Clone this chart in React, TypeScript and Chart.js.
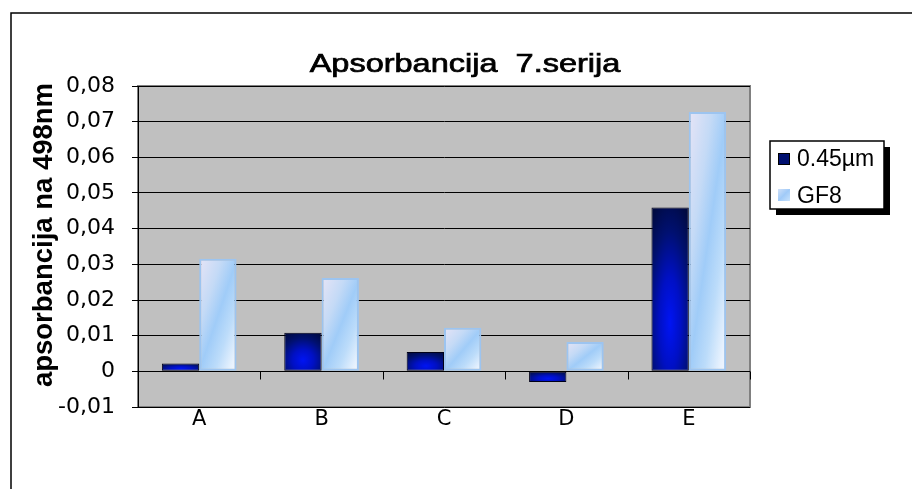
import React, { useEffect, useRef } from "react";
import { Chart, registerables } from "chart.js";

Chart.register(...registerables);

const categories = ["A", "B", "C", "D", "E"];
const seriesNames = ["0.45µm", "GF8"];
const series045 = [0.0022, 0.0108, 0.0054, -0.003, 0.0459];
const seriesGF8 = [0.0316, 0.0262, 0.0122, 0.0082, 0.0727];
const yMin = -0.01;
const yMax = 0.08;
const yStep = 0.01;
const chartTitle = "Apsorbancija  7.serija";
const yAxisTitle = "apsorbancija na 498nm";

const CAT_PCT = 0.61;
const ARIAL = "'Liberation Sans', Arial, sans-serif";
const TICKFONT = "'DejaVu Sans', sans-serif";

function barBox(chart: any, dataIndex: number, value: number, dsIndex: number) {
  const xs = chart.scales.x;
  const ys = chart.scales.y;
  const catW = (xs.right - xs.left) / categories.length;
  const bw = (catW * CAT_PCT) / 2;
  const c = xs.getPixelForValue(dataIndex);
  const left = dsIndex === 0 ? c - bw : c;
  const y1 = ys.getPixelForValue(value);
  const y0 = ys.getPixelForValue(0);
  return { left, top: Math.min(y0, y1), w: bw, h: Math.max(1, Math.abs(y1 - y0)) };
}

function makeFill(chart: any, box: any, painter: (g: CanvasRenderingContext2D) => void) {
  const cw = Math.max(2, Math.ceil(box.w));
  const ch = Math.max(2, Math.ceil(box.h));
  const off = document.createElement("canvas");
  off.width = cw;
  off.height = ch;
  const g = off.getContext("2d") as CanvasRenderingContext2D;
  g.setTransform(cw, 0, 0, ch, 0, 0);
  painter(g);
  const pat = chart.ctx.createPattern(off, "repeat") as CanvasPattern;
  pat.setTransform(new DOMMatrix([1, 0, 0, 1, Math.round(box.left), Math.round(box.top)]));
  return pat;
}

function paintDark(g: CanvasRenderingContext2D) {
  const gr = g.createRadialGradient(0.5, 0.7, 0, 0.5, 0.7, 0.8);
  gr.addColorStop(0, "#0014F4");
  gr.addColorStop(0.35, "#0010C4");
  gr.addColorStop(0.7, "#001070");
  gr.addColorStop(1, "#000A40");
  g.fillStyle = gr;
  g.fillRect(0, 0, 1, 1);
}

function paintLight(g: CanvasRenderingContext2D) {
  const gr = g.createLinearGradient(0, 0, 1, 1);
  gr.addColorStop(0, "#E6E4F6");
  gr.addColorStop(0.3, "#C4DAF6");
  gr.addColorStop(0.5, "#A0CCF8");
  gr.addColorStop(0.7, "#BCDCFA");
  gr.addColorStop(0.9, "#E8F2FE");
  gr.addColorStop(1, "#F4F8FF");
  g.fillStyle = gr;
  g.fillRect(0, 0, 1, 1);
}

function scriptFill(dsIndex: number, fallback: string) {
  return (ctx: any) => {
    const chart = ctx.chart;
    if (ctx.type !== "data" || !chart.scales || !chart.scales.x || !chart.scales.y) return fallback;
    const box = barBox(chart, ctx.dataIndex, ctx.raw as number, dsIndex);
    if (![box.left, box.top, box.w, box.h].every((v) => Number.isFinite(v)) || box.w < 1) return fallback;
    return makeFill(chart, box, dsIndex === 0 ? paintDark : paintLight);
  };
}

const decorPlugin = {
  id: "excelDecor",
  beforeDraw(chart: any) {
    const { ctx, chartArea: a } = chart;
    ctx.save();
    ctx.fillStyle = "#FFFFFF";
    ctx.fillRect(0, 0, chart.width, chart.height);
    ctx.strokeStyle = "#000";
    ctx.lineWidth = 1.5;
    ctx.strokeRect(11, 13, 1200, 1200);
    ctx.fillStyle = "#C0C0C0";
    ctx.fillRect(a.left, a.top, a.right - a.left, a.bottom - a.top);
    ctx.strokeStyle = "#808080";
    ctx.lineWidth = 2;
    ctx.strokeRect(a.left, a.top, a.right - a.left, a.bottom - a.top);
    ctx.restore();
  },
  afterDatasetsDraw(chart: any) {
    const { ctx, chartArea: a } = chart;
    const ys = chart.scales.y;
    const y0 = Math.round(ys.getPixelForValue(0)) + 0.5;
    ctx.save();
    ctx.strokeStyle = "#000";
    ctx.lineWidth = 1;
    ctx.beginPath();
    ctx.moveTo(a.left, y0);
    ctx.lineTo(a.right, y0);
    const catW = (a.right - a.left) / categories.length;
    for (let i = 0; i <= categories.length; i++) {
      const x = Math.round(a.left + i * catW) + 0.5;
      ctx.moveTo(x, y0);
      ctx.lineTo(x, y0 + 8);
    }
    ctx.stroke();
    ctx.restore();
  },
  afterDraw(chart: any) {
    const { ctx } = chart;
    ctx.save();
    ctx.fillStyle = "#000";
    ctx.strokeStyle = "#000";
    ctx.font = `25px ${ARIAL}`;
    ctx.textAlign = "center";
    ctx.textBaseline = "alphabetic";
    ctx.save();
    ctx.translate(465, 72);
    ctx.scale(1.3, 1);
    ctx.lineWidth = 0.7;
    ctx.fillText(chartTitle, 0, 0);
    ctx.strokeText(chartTitle, 0, 0);
    ctx.restore();
    ctx.save();
    ctx.font = `bold 27.5px ${ARIAL}`;
    ctx.translate(52, 235);
    ctx.rotate(-Math.PI / 2);
    ctx.fillText(yAxisTitle, 0, 0);
    ctx.restore();
    const lx = 770, ly = 141, lw = 114, lh = 68;
    ctx.fillStyle = "#000";
    ctx.fillRect(lx + 6, ly + 6, lw, lh);
    ctx.fillStyle = "#FFF";
    ctx.fillRect(lx, ly, lw, lh);
    ctx.strokeStyle = "#000";
    ctx.lineWidth = 1.5;
    ctx.strokeRect(lx, ly, lw, lh);
    ctx.fillStyle = "#001070";
    ctx.fillRect(778, 153, 12, 12);
    ctx.lineWidth = 1;
    ctx.strokeRect(778.5, 153.5, 11, 11);
    const sg = ctx.createLinearGradient(778, 189, 790, 201);
    sg.addColorStop(0, "#D0E0F8");
    sg.addColorStop(0.5, "#A0CAF8");
    sg.addColorStop(1, "#C8E2FC");
    ctx.fillStyle = sg;
    ctx.fillRect(778, 189, 12, 12);
    ctx.fillStyle = "#000";
    ctx.textAlign = "left";
    ctx.font = `23px ${ARIAL}`;
    const ds = chart.data.datasets;
    ctx.fillText(ds[0].label, 797, 166);
    ctx.fillText(ds[1].label, 797, 203);
    ctx.restore();
  },
};

function fmt(v: number) {
  if (Math.abs(v) < 1e-9) return "0";
  return v.toFixed(2).replace(".", ",");
}

export default function App() {
  const ref = useRef<HTMLCanvasElement | null>(null);
  useEffect(() => {
    if (!ref.current) return;
    const chart = new Chart(ref.current, {
      type: "bar",
      data: {
        labels: categories,
        datasets: [
          {
            label: seriesNames[0],
            data: series045,
            backgroundColor: scriptFill(0, "#0010C0"),
            borderColor: "#000018",
            borderWidth: 1,
            borderSkipped: false,
            categoryPercentage: CAT_PCT,
            barPercentage: 1,
          },
          {
            label: seriesNames[1],
            data: seriesGF8,
            backgroundColor: scriptFill(1, "#A8D0F8"),
            borderColor: "#9CC4F0",
            borderWidth: 2,
            borderSkipped: false,
            categoryPercentage: CAT_PCT,
            barPercentage: 1,
          },
        ],
      },
      options: {
        responsive: false,
        animation: false,
        devicePixelRatio: 1,
        layout: { padding: { left: 0, top: 86, right: 162, bottom: 0 } },
        plugins: {
          legend: { display: false },
          title: { display: false },
          tooltip: { enabled: false },
        },
        scales: {
          x: {
            grid: { display: false, drawTicks: false },
            border: { display: false },
            ticks: { color: "#000", font: { family: TICKFONT, size: 21 }, padding: 0 },
            afterFit(s: any) {
              s.height = 82;
            },
          },
          y: {
            min: yMin,
            max: yMax,
            ticks: {
              stepSize: yStep,
              color: "#000",
              font: { family: TICKFONT, size: 22 },
              padding: 17,
              callback: (v: any) => fmt(Number(v)),
            },
            grid: { color: "#000", lineWidth: 1, tickLength: 6, tickColor: "#000", drawTicks: true },
            border: { color: "#000", width: 1 },
            afterFit(s: any) {
              s.width = 138;
            },
          },
        },
      },
      plugins: [decorPlugin],
    } as any);
    return () => chart.destroy();
  }, []);
  return (
    <div style={{ position: "absolute", left: 0, top: 0, width: 912, height: 489 }}>
      <canvas ref={ref} width={912} height={489} style={{ display: "block" }} />
    </div>
  );
}
